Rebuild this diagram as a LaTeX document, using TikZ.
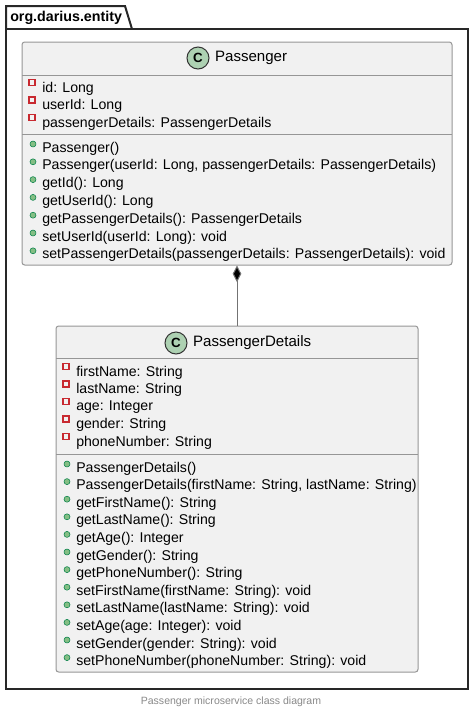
\documentclass[tikz,border=0pt]{standalone}
\usepackage{fontspec}
\setmainfont{Liberation Sans}
\usetikzlibrary{arrows.meta,positioning}
\definecolor{classfill}{RGB}{241,241,241}
\definecolor{classline}{RGB}{150,150,150}
\definecolor{circfill}{RGB}{173,209,178}
\definecolor{privred}{RGB}{200,41,48}
\definecolor{pubgreen}{RGB}{132,190,132}
\definecolor{publine}{RGB}{3,128,72}
\definecolor{pkgline}{RGB}{40,40,40}
\definecolor{captiongray}{RGB}{136,136,136}

\begin{document}
\begin{tikzpicture}[
  x=0.75pt,y=-0.75pt,
  classbox/.style={draw=classline,fill=classfill,rounded corners=2pt,line width=0.75pt,inner sep=0pt},
  sepline/.style={draw=classline,line width=0.75pt},
  member/.style={anchor=west,inner sep=0pt,font=\fontsize{10.6}{12}\selectfont},
  title/.style={anchor=west,inner sep=0pt,font=\fontsize{11.3}{13}\selectfont},
  badge/.style={circle,draw=black!80,fill=circfill,line width=0.75pt,minimum size=16.5pt,inner sep=0pt,font=\bfseries\fontsize{10}{12}\selectfont},
  privicon/.style={draw=privred,line width=0.9pt},
  pubicon/.style={fill=pubgreen,draw=publine,line width=0.4pt},
  comp/.style={draw=black!55,line width=0.75pt,-{Diamond[length=12.5pt,width=6.5pt,fill=black]}}
]
\useasboundingbox (0,0) rectangle (475,715);

% package
\draw[pkgline,line width=1.5pt] (6,29) -- (6,6) -- (125,6) -- (132,29);
\node[draw=pkgline,line width=1.5pt,minimum width=346.5pt,minimum height=495pt,inner sep=0pt] (pkg) at (237,359) {};
\node[anchor=west,inner sep=0pt,font=\bfseries\fontsize{10.7}{12}\selectfont] (pkgname) at (10,18) {org.darius.entity};

% Passenger
\node[classbox,minimum width=322.5pt,minimum height=167.25pt] (passenger) at (237,153.5) {};
\node[badge] (pcirc) at (198,58) {C};
\node[title,right=4pt of pcirc] (ptitle) {Passenger};
\draw[sepline] (22,75) -- (452,75);
\draw[sepline] (22,134) -- (452,134);
\foreach \txt [count=\i from 0] in {id: Long,userId: Long,passengerDetails: PassengerDetails}{
  \node[member] (pa\i) at (42,88.5+17.5*\i) {\txt};
  \draw[privicon] (29,85.5+17.5*\i) rectangle ++(6,-6);
}
\foreach \txt [count=\i from 0] in {Passenger(),{Passenger(userId: Long, passengerDetails: PassengerDetails)},getId(): Long,getUserId(): Long,getPassengerDetails(): PassengerDetails,setUserId(userId: Long): void,setPassengerDetails(passengerDetails: PassengerDetails): void}{
  \node[member] (pm\i) at (42,148.5+17.8*\i) {\txt};
  \fill[pubicon] (33,144+17.8*\i) circle (3);
}

% PassengerDetails
\node[classbox,minimum width=271.5pt,minimum height=259.5pt] (details) at (237,499) {};
\node[badge] (dcirc) at (176,343) {C};
\node[title,right=4pt of dcirc] (dtitle) {PassengerDetails};
\draw[sepline] (56,358) -- (418,358);
\draw[sepline] (56,454) -- (418,454);
\foreach \txt [count=\i from 0] in {firstName: String,lastName: String,age: Integer,gender: String,phoneNumber: String}{
  \node[member] (da\i) at (76,372.5+17.5*\i) {\txt};
  \draw[privicon] (63,369.5+17.5*\i) rectangle ++(6,-6);
}
\foreach \txt [count=\i from 0] in {PassengerDetails(),{PassengerDetails(firstName: String, lastName: String)},getFirstName(): String,getLastName(): String,getAge(): Integer,getGender(): String,getPhoneNumber(): String,setFirstName(firstName: String): void,setLastName(lastName: String): void,setAge(age: Integer): void,setGender(gender: String): void,setPhoneNumber(phoneNumber: String): void}{
  \node[member] (dm\i) at (76,468.5+17.6*\i) {\txt};
  \fill[pubicon] (67,464+17.6*\i) circle (3);
}

% composition
\draw[comp] (details.north) -- (passenger.south);

% caption
\node[font=\fontsize{7.9}{9}\selectfont,text=captiongray,inner sep=0pt] (caption) at (231,702) {Passenger microservice class diagram};
\end{tikzpicture}
\end{document}
